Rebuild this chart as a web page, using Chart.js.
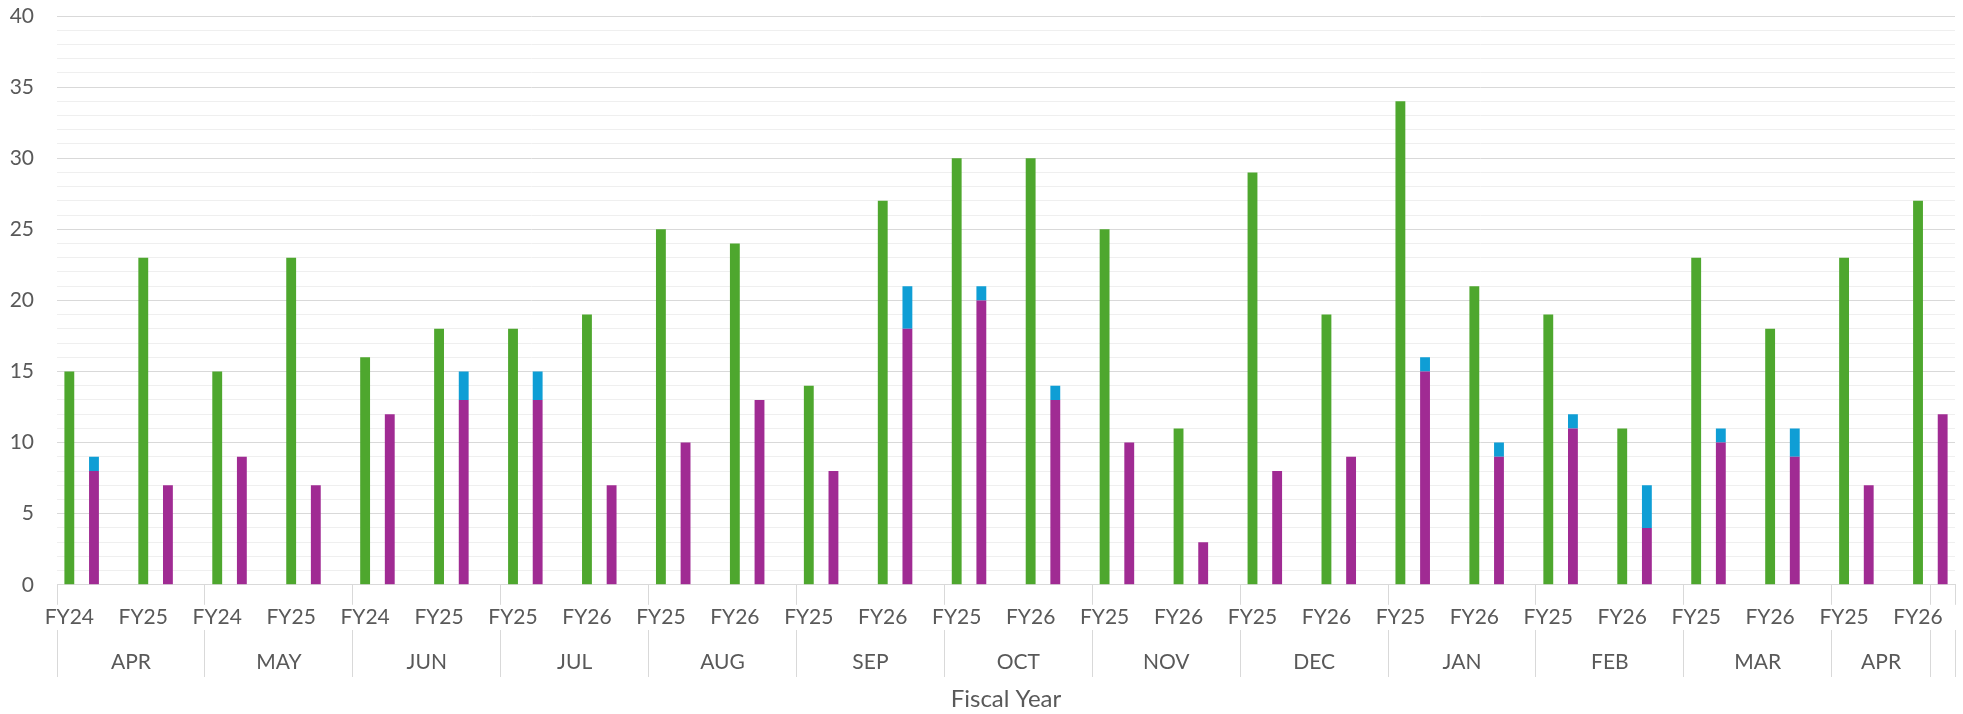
<!DOCTYPE html>
<html>
<head>
<meta charset="utf-8">
<script src="https://cdn.jsdelivr.net/npm/chart.js@4.4.1/dist/chart.umd.min.js"></script>
<style>
  html, body { margin: 0; padding: 0; background: #ffffff; }
  #wrap { width: 1963px; height: 714px; }
</style>
</head>
<body>
<div id="wrap"><canvas id="c" width="1963" height="714"></canvas></div>
<script>
// Leaf-level category labels (fiscal year), one per slot
const fyCategories = [
  'FY24','','','FY25','','',   // APR
  'FY24','','','FY25','','',   // MAY
  'FY24','','','FY25','','',   // JUN
  'FY25','','','FY26','','',   // JUL
  'FY25','','','FY26','','',   // AUG
  'FY25','','','FY26','','',   // SEP
  'FY25','','','FY26','','',   // OCT
  'FY25','','','FY26','','',   // NOV
  'FY25','','','FY26','','',   // DEC
  'FY25','','','FY26','','',   // JAN
  'FY25','','','FY26','','',   // FEB
  'FY25','','','FY26','','',   // MAR
  'FY25','','','FY26',         // APR
  ''
];

// Outer-level category labels (month), one per slot
const monthCategories = [
  ...Array(6).fill('APR'), ...Array(6).fill('MAY'), ...Array(6).fill('JUN'),
  ...Array(6).fill('JUL'), ...Array(6).fill('AUG'), ...Array(6).fill('SEP'),
  ...Array(6).fill('OCT'), ...Array(6).fill('NOV'), ...Array(6).fill('DEC'),
  ...Array(6).fill('JAN'), ...Array(6).fill('FEB'), ...Array(6).fill('MAR'),
  ...Array(4).fill('APR '), ''
];

const greenValues = [
  15,null,null,23,null,null,
  15,null,null,23,null,null,
  16,null,null,18,null,null,
  18,null,null,19,null,null,
  25,null,null,24,null,null,
  14,null,null,27,null,null,
  30,null,null,30,null,null,
  25,null,null,11,null,null,
  29,null,null,19,null,null,
  34,null,null,21,null,null,
  19,null,null,11,null,null,
  23,null,null,18,null,null,
  23,null,null,27,
  null
];

const purpleValues = [
  null,8,null,null,7,null,
  null,9,null,null,7,null,
  null,12,null,null,13,null,
  null,13,null,null,7,null,
  null,10,null,null,13,null,
  null,8,null,null,18,null,
  null,20,null,null,13,null,
  null,10,null,null,3,null,
  null,8,null,null,9,null,
  null,15,null,null,9,null,
  null,11,null,null,4,null,
  null,10,null,null,9,null,
  null,7,null,null,
  12
];

const blueValues = [
  null,1,null,null,null,null,
  null,null,null,null,null,null,
  null,null,null,null,2,null,
  null,2,null,null,null,null,
  null,null,null,null,null,null,
  null,null,null,null,3,null,
  null,1,null,null,1,null,
  null,null,null,null,null,null,
  null,null,null,null,null,null,
  null,1,null,null,1,null,
  null,1,null,null,3,null,
  null,1,null,null,2,null,
  null,null,null,null,
  null
];

const yTickStep = 5;

// ---- derived month groups (from monthCategories) ----
const groups = [];
monthCategories.forEach((m, i) => {
  if (i === 0 || m !== monthCategories[i - 1]) groups.push({ label: m.trim(), start: i, end: i + 1 });
  else groups[groups.length - 1].end = i + 1;
});
const groupStarts = new Set(groups.map(g => g.start));
// outer axis ticks: group boundaries (separator lines) and group centres (labels)
const outerTicks = [];
groups.forEach(g => {
  outerTicks.push({ value: g.start, label: '', boundary: true });
  outerTicks.push({ value: (g.start + g.end) / 2, label: g.label, boundary: false });
});
outerTicks.push({ value: monthCategories.length, label: '', boundary: true });

const FONT = "Lato, 'Open Sans', sans-serif";
const TEXT = '#595959';
const LINE = '#d9d9d9';
const MINOR = '#efefef';
const CLEAR = 'rgba(0,0,0,0)';

new Chart(document.getElementById('c'), {
  type: 'bar',
  data: {
    labels: fyCategories,
    datasets: [
      { label: 'Purple', data: purpleValues, backgroundColor: '#A02B93', stack: 's' },
      { label: 'Blue', data: blueValues, backgroundColor: '#0F9ED5', stack: 's' },
      { label: 'Green', data: greenValues, backgroundColor: '#4EA72E', stack: 's' }
    ]
  },
  options: {
    responsive: false,
    animation: false,
    devicePixelRatio: 1,
    layout: { padding: { top: 16, right: 8, bottom: 0, left: 0 } },
    datasets: { bar: { barPercentage: 0.4, categoryPercentage: 1.0, borderWidth: 0 } },
    plugins: { legend: { display: false }, tooltip: { enabled: false } },
    scales: {
      x: {
        type: 'category',
        stacked: true,
        offset: true,
        weight: 1,
        border: { display: true, color: LINE, width: 1 },
        grid: {
          display: true,
          offset: true,
          drawOnChartArea: false,
          drawTicks: true,
          tickLength: 20,
          lineWidth: 1,
          color: (ctx) => {
            if (ctx.type !== 'tick') return LINE;
            return groupStarts.has(ctx.index) ? LINE : CLEAR;
          }
        },
        ticks: {
          autoSkip: false,
          maxRotation: 0,
          minRotation: 0,
          padding: 0,
          color: TEXT,
          font: { family: FONT, size: 21 }
        }
      },
      x2: {
        type: 'linear',
        position: 'bottom',
        weight: 2,
        offset: false,
        min: 0,
        max: fyCategories.length,
        border: { display: false },
        grid: {
          display: true,
          offset: false,
          drawOnChartArea: false,
          drawTicks: true,
          tickLength: 47,
          lineWidth: 1,
          color: (ctx) => (ctx.type === 'tick' && outerTicks[ctx.index] && outerTicks[ctx.index].boundary) ? LINE : CLEAR
        },
        afterBuildTicks: (scale) => {
          scale.ticks = outerTicks.map(t => ({ value: t.value }));
        },
        ticks: {
          autoSkip: false,
          maxRotation: 0,
          minRotation: 0,
          padding: -27,
          color: TEXT,
          font: { family: FONT, size: 21 },
          callback: (v, i) => outerTicks[i] ? outerTicks[i].label : ''
        },
        title: {
          display: true,
          text: 'Fiscal Year',
          color: TEXT,
          font: { family: FONT, size: 24 },
          padding: { top: 37, bottom: 0 }
        }
      },
      y: {
        stacked: true,
        min: 0,
        max: 40,
        afterFit: (scale) => { scale.width = 57; scale.paddingTop = 0; scale.paddingBottom = 0; },
        border: { display: false },
        grid: {
          drawTicks: false,
          lineWidth: 1,
          color: (ctx) => (ctx.tick && ctx.tick.value % yTickStep === 0) ? LINE : MINOR
        },
        ticks: {
          stepSize: 1,
          autoSkip: false,
          padding: 23,
          color: TEXT,
          font: { family: FONT, size: 21 },
          callback: (v) => (v % yTickStep === 0 ? v : '')
        }
      }
    }
  }
});
</script>
</body>
</html>
